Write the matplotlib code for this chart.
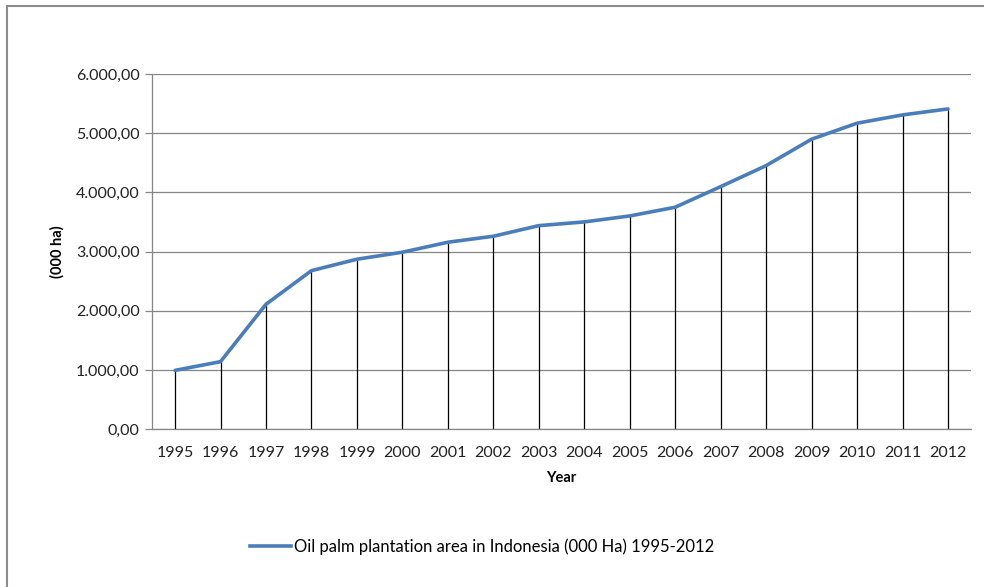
import matplotlib
matplotlib.use("Agg")
import matplotlib.pyplot as plt
from matplotlib.lines import Line2D

years = ["1995", "1996", "1997", "1998", "1999", "2000", "2001", "2002", "2003",
         "2004", "2005", "2006", "2007", "2008", "2009", "2010", "2011", "2012"]
area = [995, 1142, 2111, 2679, 2872, 2990, 3159, 3260, 3439,
        3502, 3603, 3750, 4098, 4453, 4899, 5169, 5309, 5410]
yticks = [0, 1000, 2000, 3000, 4000, 5000, 6000]
ytick_labels = ["0,00", "1.000,00", "2.000,00", "3.000,00", "4.000,00", "5.000,00", "6.000,00"]

plt.rcParams['font.family'] = ['Lato', 'DejaVu Sans']

W, H = 984, 587
fig = plt.figure(figsize=(W / 100, H / 100), dpi=100)
ax = fig.add_axes([152.3 / W, 1 - 429.3 / H, (970.7 - 152.3) / W, (429.3 - 74) / H])

x = list(range(len(years)))
ax.vlines(x, 0, area, colors="#000000", linewidth=0.9, zorder=2)
ax.plot(x, area, color="#4a7ebb", linewidth=2.6, zorder=3, solid_capstyle="round",
        label="Oil palm plantation area in Indonesia (000 Ha) 1995-2012")

ax.set_xlim(-0.5, len(years) - 0.5)
ax.set_ylim(0, 6000)
ax.set_yticks(yticks)
ax.set_yticklabels(ytick_labels, fontsize=11.5, color="#222222")
ax.set_xticks(x)
ax.set_xticklabels(years, fontsize=11.5, color="#222222")
ax.tick_params(axis="x", length=0, pad=12)
ax.tick_params(axis="y", length=5, width=0.9, color="#868686", pad=4)
ax.yaxis.grid(True, color="#868686", linewidth=0.9)
ax.set_axisbelow(True)
for s in ["top", "right"]:
    ax.spines[s].set_visible(False)
for s in ["left", "bottom"]:
    ax.spines[s].set_color("#868686")
    ax.spines[s].set_linewidth(0.9)

ax.set_xlabel("Year", fontsize=10.5, fontweight="bold", labelpad=8)
ax.set_ylabel("(000 ha)", fontsize=10.5, fontweight="bold", labelpad=8)

handle = Line2D([0], [0], color="#4a7ebb", linewidth=2.6)
fig.legend([handle], ["Oil palm plantation area in Indonesia (000 Ha) 1995-2012"],
           loc="center", bbox_to_anchor=(482 / W, 1 - 547 / H), frameon=False,
           fontsize=12, handlelength=2.5, handletextpad=0.15)

border = plt.Rectangle((6.5 / W, -0.05), 1.2, 1.05 - 6 / H, transform=fig.transFigure,
                       fill=False, edgecolor="#8c8c8c", linewidth=1.5)
fig.patches.append(border)

fig.savefig("out.png", dpi=100, facecolor="white")
